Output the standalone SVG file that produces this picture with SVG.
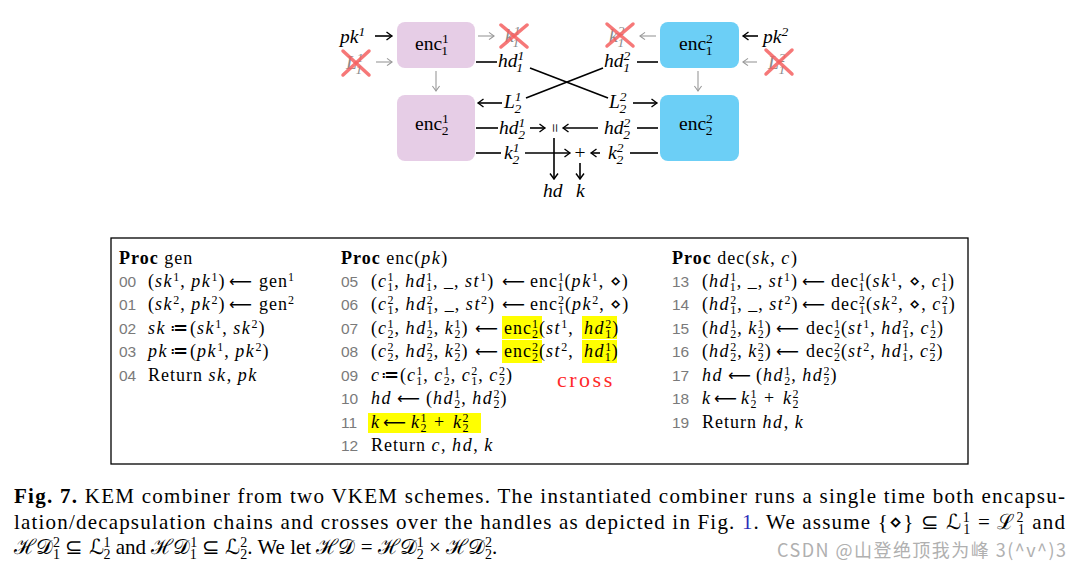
<svg xmlns="http://www.w3.org/2000/svg" width="1079" height="571" viewBox="0 0 1079 571">
<style>
.d{font-family:"Liberation Serif",serif;font-size:19.5px;fill:#000}
.i{font-style:italic}
.g{fill:#8a8a8a}
.ds{font-size:13.5px;baseline-shift:7px}
.du{font-size:13.5px;baseline-shift:-4.5px}
.m{font-family:"Liberation Serif",serif;font-size:18px;letter-spacing:1px;fill:#000}
.m .i{letter-spacing:1.6px}
.ar{font-family:"DejaVu Sans",sans-serif;font-size:16px;letter-spacing:0}
.b{font-weight:bold}
.s{font-size:12px;baseline-shift:6.5px}
.u{font-size:12px;baseline-shift:-4px}
.ln{font-family:"Liberation Sans",sans-serif;font-size:15.5px;fill:#7a7a7a}
.c{font-family:"Liberation Serif",serif;font-size:21px;fill:#000}
.cs{font-size:14px;baseline-shift:7px}
.cu{font-size:14px;baseline-shift:-5px}
.ln1{stroke:#000;stroke-width:1.6;fill:none}
.ln2{stroke:#999;stroke-width:1.1;fill:none}
.x{stroke:#f46060;stroke-opacity:0.85;stroke-width:3.5;stroke-linecap:round}
.hl{fill:#ffff00}
</style>
<defs>
<marker id="ab" viewBox="-7 -5 8 10" refX="0" refY="0" markerWidth="8" markerHeight="10" orient="auto" markerUnits="userSpaceOnUse"><path d="M-5.5,-4 Q-1.5,-1 0,0 Q-1.5,1 -5.5,4" fill="none" stroke="#000" stroke-width="1.4"/></marker>
<marker id="ag" viewBox="-7 -5 8 10" refX="0" refY="0" markerWidth="8" markerHeight="10" orient="auto" markerUnits="userSpaceOnUse"><path d="M-5,-3.6 Q-1.5,-1 0,0 Q-1.5,1 -5,3.6" fill="none" stroke="#999" stroke-width="1.1"/></marker>
</defs>

<g id="enc11"><rect x="397" y="22" width="78" height="46" rx="8" fill="#e6cde6"/><text class="d" x="415" y="50">enc<tspan class="ds">1</tspan><tspan class="du" dx="-7">1</tspan></text></g>
<g id="enc12"><rect x="397" y="95" width="78" height="66" rx="8" fill="#e6cde6"/><text class="d" x="415" y="130">enc<tspan class="ds">1</tspan><tspan class="du" dx="-7">2</tspan></text></g>
<g id="enc21"><rect x="660" y="22" width="79" height="46" rx="8" fill="#6ccff6"/><text class="d" x="679" y="50">enc<tspan class="ds">2</tspan><tspan class="du" dx="-7">1</tspan></text></g>
<g id="enc22"><rect x="660" y="95" width="79" height="66" rx="8" fill="#6ccff6"/><text class="d" x="679" y="130">enc<tspan class="ds">2</tspan><tspan class="du" dx="-7">2</tspan></text></g>

<g id="labels">
<text class="d i" x="340" y="43">pk<tspan class="ds">1</tspan></text>
<text class="d i" x="763" y="43">pk<tspan class="ds">2</tspan></text>
<text class="d i g" x="346" y="69">L<tspan class="ds">1</tspan><tspan class="du" dx="-7">1</tspan></text>
<text class="d i g" x="768" y="69">L<tspan class="ds">2</tspan><tspan class="du" dx="-7">1</tspan></text>
<text class="d i g" x="505" y="42">k<tspan class="ds">1</tspan><tspan class="du" dx="-7">1</tspan></text>
<text class="d i g" x="609" y="42">k<tspan class="ds">2</tspan><tspan class="du" dx="-7">1</tspan></text>
<text class="d i" x="498" y="67">hd<tspan class="ds">1</tspan><tspan class="du" dx="-7">1</tspan></text>
<text class="d i" x="604" y="67">hd<tspan class="ds">2</tspan><tspan class="du" dx="-7">1</tspan></text>
<text class="d i" x="504" y="108">L<tspan class="ds">1</tspan><tspan class="du" dx="-7">2</tspan></text>
<text class="d i" x="609" y="108">L<tspan class="ds">2</tspan><tspan class="du" dx="-7">2</tspan></text>
<text class="d i" x="499" y="134">hd<tspan class="ds">1</tspan><tspan class="du" dx="-7">2</tspan></text>
<text class="d i" x="604" y="134">hd<tspan class="ds">2</tspan><tspan class="du" dx="-7">2</tspan></text>
<text class="d i" x="504" y="159">k<tspan class="ds">1</tspan><tspan class="du" dx="-7">2</tspan></text>
<text class="d i" x="608" y="159">k<tspan class="ds">2</tspan><tspan class="du" dx="-7">2</tspan></text>
<text class="d i" x="543" y="197">hd</text>
<text class="d i" x="576" y="197">k</text>
<text class="d" x="580" y="159" text-anchor="middle">+</text>
<text class="d" transform="translate(554,128) rotate(90)" text-anchor="middle" dominant-baseline="central" style="font-size:16px">=</text>
</g>

<g id="crosses">
<line class="x" x1="501" y1="25" x2="527" y2="47"/><line class="x" x1="527" y1="25" x2="501" y2="47"/>
<line class="x" x1="607" y1="24" x2="633" y2="46"/><line class="x" x1="633" y1="24" x2="607" y2="46"/>
<line class="x" x1="343" y1="51" x2="369" y2="75"/><line class="x" x1="369" y1="51" x2="343" y2="75"/>
<line class="x" x1="766" y1="50" x2="792" y2="74"/><line class="x" x1="792" y1="50" x2="766" y2="74"/>
</g>

<g id="connectors">
<line class="ln1" x1="375" y1="36" x2="392" y2="36" marker-end="url(#ab)"/>
<line class="ln1" x1="758" y1="36" x2="743" y2="36" marker-end="url(#ab)"/>
<line class="ln2" x1="376" y1="62" x2="392" y2="62" marker-end="url(#ag)"/>
<line class="ln2" x1="757" y1="62" x2="743" y2="62" marker-end="url(#ag)"/>
<line class="ln2" x1="478" y1="36" x2="494" y2="36" marker-end="url(#ag)"/>
<line class="ln2" x1="656" y1="36" x2="640" y2="36" marker-end="url(#ag)"/>
<line class="ln2" x1="436" y1="71" x2="436" y2="91" marker-end="url(#ag)"/>
<line class="ln2" x1="698" y1="71" x2="698" y2="91" marker-end="url(#ag)"/>
<line class="ln1" x1="476" y1="62" x2="497" y2="62"/>
<line class="ln1" x1="637" y1="62" x2="658" y2="62"/>
<line class="ln1" x1="530" y1="68" x2="608" y2="98"/>
<line class="ln1" x1="603" y1="68" x2="526" y2="98"/>
<line class="ln1" x1="502" y1="103" x2="478" y2="103" marker-end="url(#ab)"/>
<line class="ln1" x1="633" y1="103" x2="657" y2="103" marker-end="url(#ab)"/>
<line class="ln1" x1="476" y1="128" x2="498" y2="128"/>
<line class="ln1" x1="530" y1="128" x2="545" y2="128" marker-end="url(#ab)"/>
<line class="ln1" x1="598" y1="128" x2="563" y2="128" marker-end="url(#ab)"/>
<line class="ln1" x1="637" y1="128" x2="658" y2="128"/>
<line class="ln1" x1="476" y1="153" x2="501" y2="153"/>
<line class="ln1" x1="525" y1="153" x2="570" y2="153" marker-end="url(#ab)"/>
<line class="ln1" x1="600" y1="153" x2="591" y2="153" marker-end="url(#ab)"/>
<line class="ln1" x1="630" y1="153" x2="658" y2="153"/>
<line class="ln1" x1="554" y1="138" x2="554" y2="179" marker-end="url(#ab)"/>
<line class="ln1" x1="580" y1="163" x2="580" y2="179" marker-end="url(#ab)"/>
</g>

<g id="procbox">
<rect x="111" y="238" width="857" height="226" fill="none" stroke="#000" stroke-width="1.3"/>
<rect class="hl" x="502" y="316" width="40" height="23"/>
<rect class="hl" x="582" y="316" width="35" height="23"/>
<rect class="hl" x="502" y="340" width="40" height="23"/>
<rect class="hl" x="582" y="340" width="35" height="23"/>
<rect class="hl" x="368" y="413" width="113" height="20"/>

<text class="m" x="119" y="264"><tspan class="b">Proc</tspan> gen</text>
<text class="ln" x="119" y="287">00</text>
<text class="m" x="148" y="287">(<tspan class="i">sk</tspan><tspan class="s">1</tspan>, <tspan class="i">pk</tspan><tspan class="s">1</tspan>)<tspan class="ar" x="229">⟵</tspan><tspan x="259">gen</tspan><tspan class="s">1</tspan></text>
<text class="ln" x="119" y="310">01</text>
<text class="m" x="148" y="310">(<tspan class="i">sk</tspan><tspan class="s">2</tspan>, <tspan class="i">pk</tspan><tspan class="s">2</tspan>)<tspan class="ar" x="229">⟵</tspan><tspan x="259">gen</tspan><tspan class="s">2</tspan></text>
<text class="ln" x="119" y="334">02</text>
<text class="m" x="148" y="334"><tspan class="i">sk</tspan><tspan x="170">≔</tspan><tspan x="190">(</tspan><tspan class="i">sk</tspan><tspan class="s">1</tspan>, <tspan class="i">sk</tspan><tspan class="s">2</tspan>)</text>
<text class="ln" x="119" y="357">03</text>
<text class="m" x="148" y="357"><tspan class="i">pk</tspan><tspan x="170">≔</tspan><tspan x="190">(</tspan><tspan class="i">pk</tspan><tspan class="s">1</tspan>, <tspan class="i">pk</tspan><tspan class="s">2</tspan>)</text>
<text class="ln" x="119" y="381">04</text>
<text class="m" x="148" y="381">Return <tspan class="i">sk</tspan>, <tspan class="i">pk</tspan></text>

<text class="m" x="341" y="264"><tspan class="b">Proc</tspan> enc(<tspan class="i">pk</tspan>)</text>
<text class="ln" x="341" y="287">05</text>
<text class="m" x="371" y="287">(<tspan class="i">c</tspan><tspan class="s">1</tspan><tspan class="u" dx="-7">1</tspan>, <tspan class="i">hd</tspan><tspan class="s">1</tspan><tspan class="u" dx="-7">1</tspan>, _, <tspan class="i">st</tspan><tspan class="s">1</tspan>)<tspan class="ar" x="502">⟵</tspan><tspan x="530">enc</tspan><tspan class="s">1</tspan><tspan class="u" dx="-7">1</tspan>(<tspan class="i">pk</tspan><tspan class="s">1</tspan>, ⋄)</text>
<text class="ln" x="341" y="310">06</text>
<text class="m" x="371" y="310">(<tspan class="i">c</tspan><tspan class="s">2</tspan><tspan class="u" dx="-7">1</tspan>, <tspan class="i">hd</tspan><tspan class="s">2</tspan><tspan class="u" dx="-7">1</tspan>, _, <tspan class="i">st</tspan><tspan class="s">2</tspan>)<tspan class="ar" x="502">⟵</tspan><tspan x="530">enc</tspan><tspan class="s">2</tspan><tspan class="u" dx="-7">1</tspan>(<tspan class="i">pk</tspan><tspan class="s">2</tspan>, ⋄)</text>
<text class="ln" x="341" y="334">07</text>
<text class="m" x="371" y="334">(<tspan class="i">c</tspan><tspan class="s">1</tspan><tspan class="u" dx="-7">2</tspan>, <tspan class="i">hd</tspan><tspan class="s">1</tspan><tspan class="u" dx="-7">2</tspan>, <tspan class="i">k</tspan><tspan class="s">1</tspan><tspan class="u" dx="-7">2</tspan>)<tspan class="ar" x="475">⟵</tspan><tspan x="504">enc</tspan><tspan class="s">1</tspan><tspan class="u" dx="-7">2</tspan>(<tspan class="i">st</tspan><tspan class="s">1</tspan>,<tspan class="i" x="584">hd</tspan><tspan class="s">2</tspan><tspan class="u" dx="-7">1</tspan>)</text>
<text class="ln" x="341" y="357">08</text>
<text class="m" x="371" y="357">(<tspan class="i">c</tspan><tspan class="s">2</tspan><tspan class="u" dx="-7">2</tspan>, <tspan class="i">hd</tspan><tspan class="s">2</tspan><tspan class="u" dx="-7">2</tspan>, <tspan class="i">k</tspan><tspan class="s">2</tspan><tspan class="u" dx="-7">2</tspan>)<tspan class="ar" x="475">⟵</tspan><tspan x="504">enc</tspan><tspan class="s">2</tspan><tspan class="u" dx="-7">2</tspan>(<tspan class="i">st</tspan><tspan class="s">2</tspan>,<tspan class="i" x="584">hd</tspan><tspan class="s">1</tspan><tspan class="u" dx="-7">1</tspan>)</text>
<text class="ln" x="341" y="381">09</text>
<text class="m" x="371" y="381"><tspan class="i">c</tspan><tspan x="381">≔</tspan><tspan x="400">(</tspan><tspan class="i">c</tspan><tspan class="s">1</tspan><tspan class="u" dx="-7">1</tspan>, <tspan class="i">c</tspan><tspan class="s">1</tspan><tspan class="u" dx="-7">2</tspan>, <tspan class="i">c</tspan><tspan class="s">2</tspan><tspan class="u" dx="-7">1</tspan>, <tspan class="i">c</tspan><tspan class="s">2</tspan><tspan class="u" dx="-7">2</tspan>)</text>
<text class="ln" x="341" y="404">10</text>
<text class="m" x="371" y="404"><tspan class="i">hd</tspan><tspan class="ar" x="397">⟵</tspan><tspan x="426">(</tspan><tspan class="i">hd</tspan><tspan class="s">1</tspan><tspan class="u" dx="-7">2</tspan>, <tspan class="i">hd</tspan><tspan class="s">2</tspan><tspan class="u" dx="-7">2</tspan>)</text>
<text class="ln" x="341" y="428">11</text>
<text class="m" x="371" y="428"><tspan class="i">k</tspan><tspan class="ar" x="383">⟵</tspan><tspan class="i" x="411">k</tspan><tspan class="s">1</tspan><tspan class="u" dx="-7">2</tspan><tspan x="434">+</tspan><tspan class="i" x="453">k</tspan><tspan class="s">2</tspan><tspan class="u" dx="-7">2</tspan></text>
<text class="ln" x="341" y="451">12</text>
<text class="m" x="371" y="451">Return <tspan class="i">c</tspan>, <tspan class="i">hd</tspan>, <tspan class="i">k</tspan></text>

<text x="557" y="387" style="font-family:'Liberation Serif',serif;font-size:22px;fill:#ff2a2a;letter-spacing:2.5px">cross</text>

<text class="m" x="672" y="264"><tspan class="b">Proc</tspan> dec(<tspan class="i">sk</tspan>, <tspan class="i">c</tspan>)</text>
<text class="ln" x="672" y="287">13</text>
<text class="m" x="702" y="287">(<tspan class="i">hd</tspan><tspan class="s">1</tspan><tspan class="u" dx="-7">1</tspan>, _, <tspan class="i">st</tspan><tspan class="s">1</tspan>)<tspan class="ar" x="802">⟵</tspan><tspan x="831">dec</tspan><tspan class="s">1</tspan><tspan class="u" dx="-7">1</tspan>(<tspan class="i">sk</tspan><tspan class="s">1</tspan>, ⋄, <tspan class="i">c</tspan><tspan class="s">1</tspan><tspan class="u" dx="-7">1</tspan>)</text>
<text class="ln" x="672" y="310">14</text>
<text class="m" x="702" y="310">(<tspan class="i">hd</tspan><tspan class="s">2</tspan><tspan class="u" dx="-7">1</tspan>, _, <tspan class="i">st</tspan><tspan class="s">2</tspan>)<tspan class="ar" x="802">⟵</tspan><tspan x="831">dec</tspan><tspan class="s">2</tspan><tspan class="u" dx="-7">1</tspan>(<tspan class="i">sk</tspan><tspan class="s">2</tspan>, ⋄, <tspan class="i">c</tspan><tspan class="s">2</tspan><tspan class="u" dx="-7">1</tspan>)</text>
<text class="ln" x="672" y="334">15</text>
<text class="m" x="702" y="334">(<tspan class="i">hd</tspan><tspan class="s">1</tspan><tspan class="u" dx="-7">2</tspan>, <tspan class="i">k</tspan><tspan class="s">1</tspan><tspan class="u" dx="-7">2</tspan>)<tspan class="ar" x="776">⟵</tspan><tspan x="806">dec</tspan><tspan class="s">1</tspan><tspan class="u" dx="-7">2</tspan>(<tspan class="i">st</tspan><tspan class="s">1</tspan>, <tspan class="i">hd</tspan><tspan class="s">2</tspan><tspan class="u" dx="-7">1</tspan>, <tspan class="i">c</tspan><tspan class="s">1</tspan><tspan class="u" dx="-7">2</tspan>)</text>
<text class="ln" x="672" y="357">16</text>
<text class="m" x="702" y="357">(<tspan class="i">hd</tspan><tspan class="s">2</tspan><tspan class="u" dx="-7">2</tspan>, <tspan class="i">k</tspan><tspan class="s">2</tspan><tspan class="u" dx="-7">2</tspan>)<tspan class="ar" x="776">⟵</tspan><tspan x="806">dec</tspan><tspan class="s">2</tspan><tspan class="u" dx="-7">2</tspan>(<tspan class="i">st</tspan><tspan class="s">2</tspan>, <tspan class="i">hd</tspan><tspan class="s">1</tspan><tspan class="u" dx="-7">1</tspan>, <tspan class="i">c</tspan><tspan class="s">2</tspan><tspan class="u" dx="-7">2</tspan>)</text>
<text class="ln" x="672" y="381">17</text>
<text class="m" x="702" y="381"><tspan class="i">hd</tspan><tspan class="ar" x="728">⟵</tspan><tspan x="756">(</tspan><tspan class="i">hd</tspan><tspan class="s">1</tspan><tspan class="u" dx="-7">2</tspan>, <tspan class="i">hd</tspan><tspan class="s">2</tspan><tspan class="u" dx="-7">2</tspan>)</text>
<text class="ln" x="672" y="404">18</text>
<text class="m" x="702" y="404"><tspan class="i">k</tspan><tspan class="ar" x="714">⟵</tspan><tspan class="i" x="741">k</tspan><tspan class="s">1</tspan><tspan class="u" dx="-7">2</tspan><tspan x="764">+</tspan><tspan class="i" x="783">k</tspan><tspan class="s">2</tspan><tspan class="u" dx="-7">2</tspan></text>
<text class="ln" x="672" y="428">19</text>
<text class="m" x="702" y="428">Return <tspan class="i">hd</tspan>, <tspan class="i">k</tspan></text>
</g>

<g id="caption">
<text class="c" x="14" y="503" textLength="1051" lengthAdjust="spacing"><tspan class="b">Fig. 7.</tspan> KEM combiner from two VKEM schemes. The instantiated combiner runs a single time both encapsu-</text>
<text class="c" x="14" y="529" textLength="1051" lengthAdjust="spacing">lation/decapsulation chains and crosses over the handles as depicted in Fig. <tspan fill="#2b2bb8">1</tspan>. We assume {⋄} ⊆ ℒ<tspan class="cs">1</tspan><tspan class="cu" dx="-7">1</tspan> = ℒ<tspan class="cs">2</tspan><tspan class="cu" dx="-7">1</tspan> and</text>
<text class="c" x="14" y="554">ℋ𝒟<tspan class="cs">2</tspan><tspan class="cu" dx="-7">1</tspan> ⊆ ℒ<tspan class="cs">1</tspan><tspan class="cu" dx="-7">2</tspan> and ℋ𝒟<tspan class="cs">1</tspan><tspan class="cu" dx="-7">1</tspan> ⊆ ℒ<tspan class="cs">2</tspan><tspan class="cu" dx="-7">2</tspan>. We let ℋ𝒟 = ℋ𝒟<tspan class="cs">1</tspan><tspan class="cu" dx="-7">2</tspan> × ℋ𝒟<tspan class="cs">2</tspan><tspan class="cu" dx="-7">2</tspan>.</text>
<text x="777" y="557" style="font-family:'Noto Sans CJK SC','Noto Sans',sans-serif;font-size:18px;fill:#b0b0b0" textLength="289" lengthAdjust="spacing">CSDN @山登绝顶我为峰 3(^v^)3</text>
</g>
</svg>
